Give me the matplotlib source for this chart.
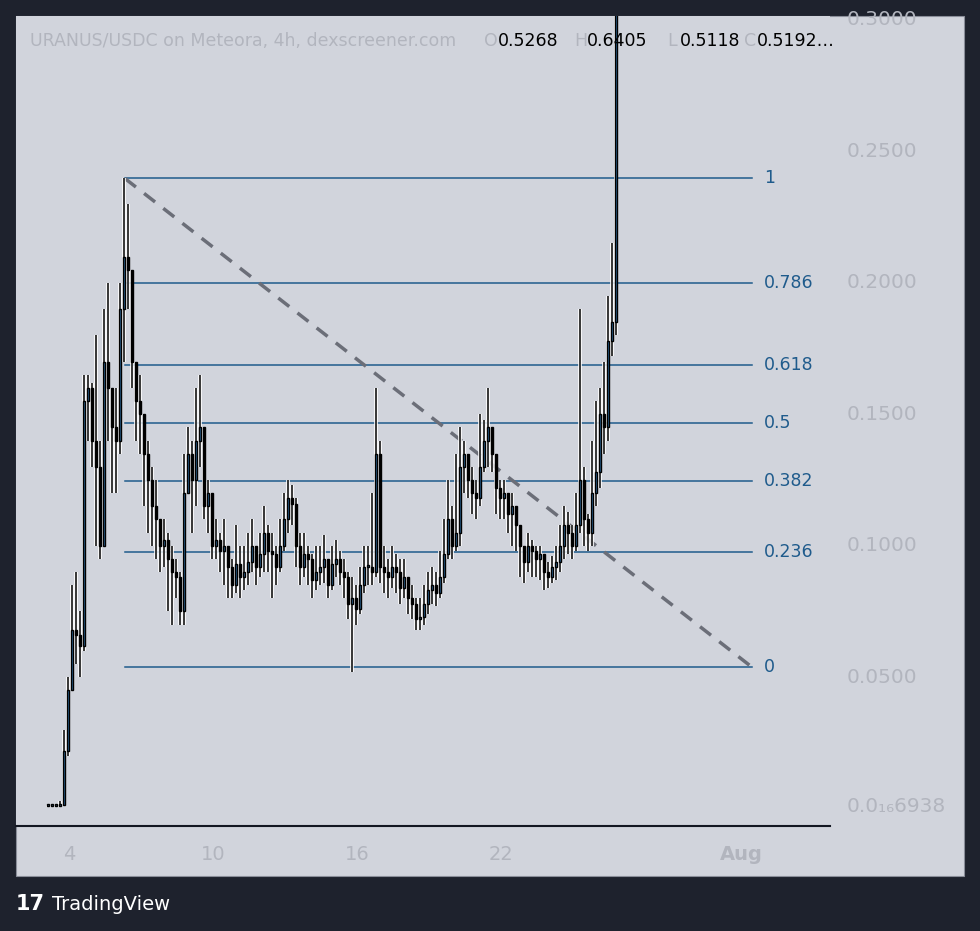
import matplotlib
matplotlib.use("Agg")
import matplotlib.pyplot as plt
from matplotlib.patches import Rectangle

# 4h candles, first one at Jul 3 ~03:00
closes = [0.001, 0.001, 0.001, 0.0015, 0.022, 0.045, 0.068, 0.066, 0.062, 0.155,
          0.16, 0.14, 0.13, 0.10, 0.17, 0.16, 0.145, 0.14, 0.19, 0.21,
          0.205, 0.17, 0.155, 0.15, 0.135, 0.125, 0.115, 0.11, 0.10, 0.102,
          0.095, 0.09, 0.088, 0.075, 0.12, 0.135, 0.125, 0.14, 0.145, 0.115,
          0.12, 0.10, 0.102, 0.098, 0.10, 0.092, 0.085, 0.093, 0.088, 0.09,
          0.094, 0.10, 0.092, 0.097, 0.105, 0.098, 0.097, 0.092, 0.10, 0.11,
          0.118, 0.116, 0.10, 0.092, 0.097, 0.095, 0.087, 0.09, 0.092, 0.095,
          0.085, 0.093, 0.095, 0.09, 0.088, 0.078, 0.08, 0.076, 0.085, 0.092,
          0.092, 0.09, 0.135, 0.092, 0.09, 0.088, 0.092, 0.09, 0.084, 0.088,
          0.08, 0.078, 0.072, 0.073, 0.078, 0.083, 0.085, 0.082, 0.088, 0.097,
          0.11, 0.10, 0.105, 0.13, 0.135, 0.125, 0.12, 0.118, 0.13, 0.14,
          0.145, 0.135, 0.122, 0.118, 0.12, 0.112, 0.115, 0.108, 0.10, 0.094,
          0.10, 0.098, 0.095, 0.097, 0.09, 0.088, 0.092, 0.094, 0.10, 0.108,
          0.105, 0.10, 0.108, 0.125, 0.11, 0.105, 0.12, 0.128, 0.15, 0.145,
          0.178, 0.185, 0.5192]
highs = [0.0012, 0.0012, 0.0012, 0.003, 0.03, 0.05, 0.085, 0.09, 0.075, 0.165,
         0.165, 0.162, 0.18, 0.14, 0.19, 0.20, 0.16, 0.16, 0.20, 0.24,
         0.23, 0.195, 0.17, 0.165, 0.15, 0.14, 0.13, 0.125, 0.11, 0.11,
         0.105, 0.10, 0.095, 0.09, 0.135, 0.145, 0.14, 0.16, 0.165, 0.14,
         0.125, 0.115, 0.11, 0.105, 0.11, 0.10, 0.095, 0.108, 0.10, 0.10,
         0.105, 0.11, 0.10, 0.105, 0.115, 0.108, 0.105, 0.10, 0.11, 0.12,
         0.125, 0.123, 0.118, 0.105, 0.105, 0.10, 0.097, 0.10, 0.10, 0.104,
         0.095, 0.10, 0.102, 0.098, 0.095, 0.09, 0.088, 0.085, 0.092, 0.10,
         0.10, 0.12, 0.16, 0.14, 0.10, 0.095, 0.10, 0.097, 0.095, 0.095,
         0.088, 0.085, 0.08, 0.08, 0.085, 0.09, 0.092, 0.09, 0.098, 0.11,
         0.125, 0.115, 0.135, 0.145, 0.14, 0.135, 0.13, 0.125, 0.15, 0.148,
         0.16, 0.145, 0.13, 0.125, 0.125, 0.12, 0.12, 0.115, 0.105, 0.10,
         0.105, 0.102, 0.10, 0.10, 0.097, 0.094, 0.096, 0.10, 0.108, 0.115,
         0.113, 0.108, 0.12, 0.19, 0.13, 0.112, 0.14, 0.155, 0.16, 0.17,
         0.195, 0.215, 0.6405]
lows = [0.0007, 0.0007, 0.0007, 0.0008, 0.001, 0.02, 0.045, 0.055, 0.05, 0.06,
        0.14, 0.13, 0.10, 0.095, 0.10, 0.14, 0.12, 0.12, 0.135, 0.17,
        0.19, 0.16, 0.14, 0.135, 0.115, 0.105, 0.10, 0.095, 0.09, 0.092,
        0.075, 0.07, 0.08, 0.07, 0.07, 0.12, 0.105, 0.115, 0.13, 0.11,
        0.105, 0.095, 0.095, 0.09, 0.085, 0.08, 0.08, 0.082, 0.08, 0.083,
        0.085, 0.09, 0.085, 0.088, 0.09, 0.09, 0.08, 0.085, 0.09, 0.098,
        0.105, 0.108, 0.092, 0.085, 0.088, 0.085, 0.08, 0.083, 0.085, 0.086,
        0.08, 0.083, 0.088, 0.085, 0.08, 0.072, 0.052, 0.07, 0.074, 0.082,
        0.085, 0.085, 0.088, 0.086, 0.082, 0.08, 0.084, 0.082, 0.078, 0.08,
        0.074, 0.072, 0.068, 0.068, 0.07, 0.074, 0.078, 0.077, 0.08, 0.086,
        0.095, 0.095, 0.098, 0.10, 0.12, 0.118, 0.112, 0.11, 0.115, 0.128,
        0.13, 0.128, 0.112, 0.11, 0.11, 0.105, 0.10, 0.098, 0.088, 0.086,
        0.09, 0.088, 0.088, 0.087, 0.083, 0.084, 0.086, 0.087, 0.09, 0.095,
        0.097, 0.095, 0.098, 0.105, 0.10, 0.098, 0.10, 0.115, 0.122, 0.135,
        0.14, 0.172, 0.18]
first_day = 3.125  # day-of-July of first candle
step = 1 / 6

fib_levels = [0, 0.236, 0.382, 0.5, 0.618, 0.786, 1]
fib_low, fib_high = 0.0538, 0.2397
fib_start, fib_end = 6.33, 32.46

price_ticks = [0.05, 0.10, 0.15, 0.20, 0.25, 0.30]
day_ticks = [4, 10, 16, 22, 32]
day_labels = ["4", "10", "16", "22", "Aug"]

BG = "#1e222d"
PANEL = "#d1d4dc"
FAINT = "#b2b5be"
FIB = "#1f5b8c"

W, H = 980, 931
fig = plt.figure(figsize=(W / 100, H / 100), dpi=100, facecolor=BG)
fig.patches.append(Rectangle((16 / W, 1 - 876 / H), (964 - 16) / W, (876 - 16) / H,
                             transform=fig.transFigure, facecolor=PANEL,
                             edgecolor="#8a8e99", lw=0.8, zorder=-5))
ax = fig.add_axes([16 / W, 1 - 826 / H, (830 - 16) / W, (826 - 16) / H])
ax.set_zorder(2)
ax.set_facecolor(PANEL)
ax.set_xlim(first_day - 8 * step, first_day + 195.5 * step)
ax.set_ylim(-0.0066, 0.3015)
for s in ["top", "left", "right"]:
    ax.spines[s].set_visible(False)
ax.spines["bottom"].set_color("#131722")
ax.spines["bottom"].set_linewidth(1.5)
ax.tick_params(length=0)
ax.set_yticks([])
ax.set_xticks(day_ticks)
ax.set_xticklabels(day_labels, color=FAINT, fontsize=14)
ax.tick_params(axis="x", pad=14)
ax.get_xticklabels()[-1].set_fontweight("bold")

# price scale labels
for p in price_ticks:
    ax.text(1.02, p, "%.4f" % p, transform=ax.get_yaxis_transform(),
            color=FAINT, fontsize=14.5, va="center", ha="left", clip_on=False)
ax.text(1.02, 0.001, "0.0₁₆6938", transform=ax.get_yaxis_transform(),
        color=FAINT, fontsize=14.5, va="center", ha="left", clip_on=False)

# fib retracement
for lv in fib_levels:
    y = fib_low + lv * (fib_high - fib_low)
    ax.plot([fib_start, fib_end], [y, y], color=FIB, lw=1.1, zorder=1)
    ax.text(fib_end + 0.5, y, str(lv), color=FIB, fontsize=12.5, va="center", ha="left")
ax.plot([fib_start, fib_end], [fib_high, fib_low], color="#6b6e78", lw=2.5,
        dashes=(4, 3), zorder=1)

# candles
opens = [closes[0]] + closes[:-1]
bw = step * 0.7
for i, (o, c, h, l) in enumerate(zip(opens, closes, highs, lows)):
    x = first_day + i * step
    hi, lo = max(h, o, c), min(l, o, c)
    ax.plot([x, x], [lo, hi], color="white", lw=2.6, zorder=2, solid_capstyle="butt")
    ax.plot([x, x], [lo, hi], color="black", lw=1.1, zorder=3, solid_capstyle="butt")
    bot, top = min(o, c), max(o, c)
    ht = max(top - bot, 0.0006)
    fc = "#2e6da4" if c >= o else "black"
    ax.add_patch(Rectangle((x - bw / 2, bot), bw, ht, facecolor=fc,
                           edgecolor="black", lw=1.0, zorder=4))

# header
fig.text(30 / W, 1 - 41 / H, "URANUS/USDC on Meteora, 4h, dexscreener.com", color=FAINT,
         fontsize=12.5, va="center", zorder=5)
for lab, lx, val, vx in [("O", 484, "0.5268", 498), ("H", 574, "0.6405", 587),
                         ("L", 667, "0.5118", 680), ("C", 744, "0.5192…", 757)]:
    fig.text(lx / W, 1 - 41 / H, lab, color=FAINT, fontsize=12.5, va="center", zorder=5)
    fig.text(vx / W, 1 - 41 / H, val, color="black", fontsize=12.5, va="center", zorder=5)

# branding
fig.text(16 / W, 1 - 904 / H, "17", color="white", fontsize=15, fontweight="heavy",
         va="center")
fig.text(52 / W, 1 - 904 / H, "TradingView", color="white", fontsize=14, va="center")

fig.savefig("out.png", dpi=100, facecolor=BG)
